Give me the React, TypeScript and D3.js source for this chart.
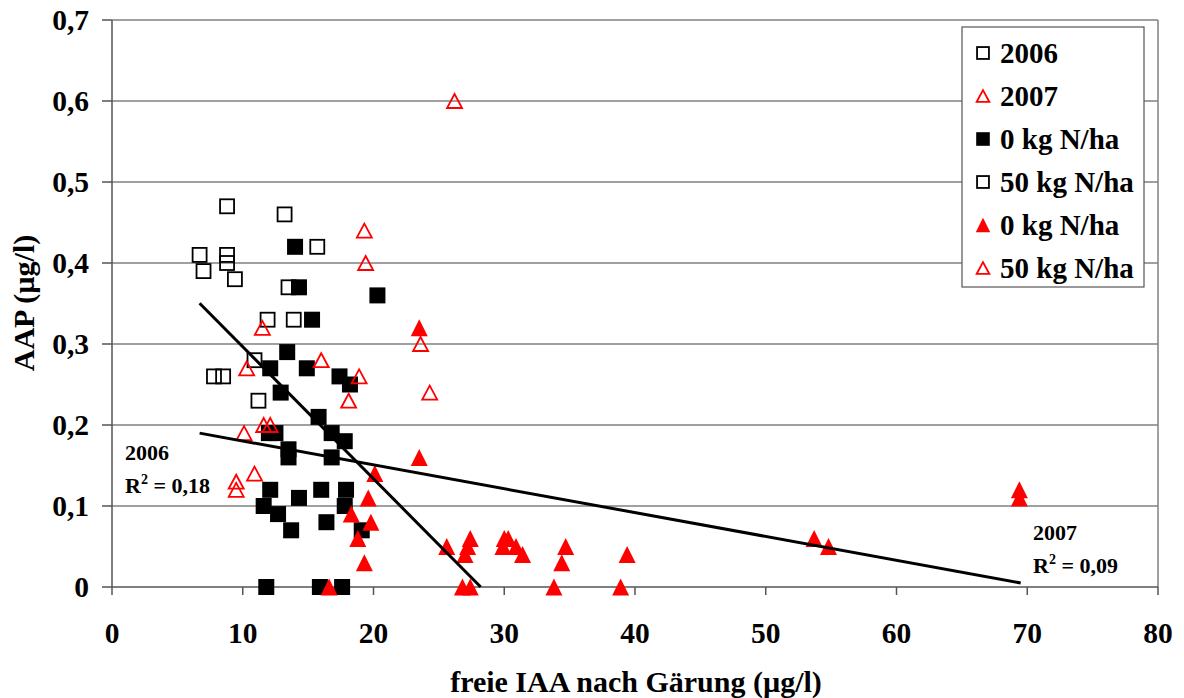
import React from "react";
import * as d3 from "d3";

// ---- data ----
const xTicks = [0, 10, 20, 30, 40, 50, 60, 70, 80];
const yTicks = [0, 0.1, 0.2, 0.3, 0.4, 0.5, 0.6, 0.7];

// 2006, 50 kg N/ha (open squares)
const s2006open: [number, number][] = [
  [6.7, 0.41], [7.0, 0.39], [8.8, 0.47], [8.8, 0.41], [8.8, 0.40], [9.4, 0.38],
  [13.2, 0.46], [15.7, 0.42], [13.5, 0.37], [11.9, 0.33], [13.9, 0.33],
  [10.9, 0.28], [7.8, 0.26], [8.5, 0.26], [11.2, 0.23],
];
// 2006, 0 kg N/ha (filled squares)
const s2006filled: [number, number][] = [
  [14.0, 0.42], [14.3, 0.37], [15.3, 0.33], [20.3, 0.36], [13.4, 0.29],
  [12.1, 0.27], [14.9, 0.27], [17.4, 0.26], [18.2, 0.25], [12.9, 0.24],
  [15.8, 0.21], [16.8, 0.19], [12.0, 0.19], [12.5, 0.19], [13.5, 0.17],
  [13.5, 0.16], [17.8, 0.18], [16.8, 0.16], [12.1, 0.12], [11.6, 0.10],
  [12.7, 0.09], [13.7, 0.07], [14.3, 0.11], [16.0, 0.12], [16.4, 0.08],
  [17.9, 0.12], [17.8, 0.10], [19.1, 0.07], [11.8, 0], [15.9, 0], [17.6, 0],
];
// 2007, 0 kg N/ha (filled triangles)
const s2007filled: [number, number][] = [
  [23.5, 0.32], [23.5, 0.16], [20.1, 0.14], [19.6, 0.11], [18.3, 0.09],
  [19.8, 0.08], [18.8, 0.06], [19.3, 0.03], [16.6, 0], [25.6, 0.05],
  [27.4, 0.06], [27.2, 0.05], [27.0, 0.04], [30.0, 0.06], [30.3, 0.06],
  [29.9, 0.05], [30.9, 0.05], [31.4, 0.04], [34.7, 0.05], [34.4, 0.03],
  [39.4, 0.04], [26.8, 0], [27.4, 0], [33.8, 0], [38.9, 0],
  [53.7, 0.06], [54.8, 0.05], [69.4, 0.12], [69.4, 0.11],
];
// 2007, 50 kg N/ha (open triangles)
const s2007open: [number, number][] = [
  [26.2, 0.60], [19.3, 0.44], [19.4, 0.40], [23.6, 0.30], [11.5, 0.32],
  [16.0, 0.28], [10.3, 0.27], [18.9, 0.26], [18.1, 0.23], [24.3, 0.24],
  [11.6, 0.20], [12.1, 0.20], [10.1, 0.19], [10.9, 0.14], [9.5, 0.13], [9.5, 0.12],
];
// trend lines: [intercept, slope, xStart, xEnd]
const trend2006 = [0.4596, -0.0163, 6.7, 28.2];
const trend2007 = [0.2097, -0.002946, 6.7, 69.5];

const legendLabels = ["2006", "2007", "0 kg N/ha", "50 kg N/ha", "0 kg N/ha", "50 kg N/ha"];
const legendKinds = ["sqOpen", "triOpen", "sqFilled", "sqOpen", "triFilled", "triOpen"];

const FONT = "'Liberation Serif', 'Times New Roman', serif";
const RED = "#ff0000";

function Marker({ kind, x, y, s = 1 }: { kind: string; x: number; y: number; s?: number }) {
  if (kind === "sqOpen") {
    const h = 7 * s;
    return <rect x={x - h} y={y - h} width={2 * h} height={2 * h} fill="none" stroke="#000" strokeWidth={1.8} />;
  }
  if (kind === "sqFilled") {
    const h = 8 * s;
    return <rect x={x - h} y={y - h} width={2 * h} height={2 * h} fill="#000" />;
  }
  if (kind === "triOpen") {
    const w = 7.5 * s, hh = 7 * s;
    return <path d={`M${x},${y - hh}L${x + w},${y + hh}L${x - w},${y + hh}Z`} fill="none" stroke={RED} strokeWidth={1.8} />;
  }
  const w = 8.5 * s, hh = 8.5 * s;
  return <path d={`M${x},${y - hh}L${x + w},${y + hh}L${x - w},${y + hh}Z`} fill={RED} />;
}

export default function App() {
  const x = d3.scaleLinear().domain([0, 80]).range([112, 1158]);
  const y = d3.scaleLinear().domain([0, 0.7]).range([587, 20]);
  const fmtY = (v: number) => (v === 0 ? "0" : d3.format(".1f")(v).replace(".", ","));
  const line = d3.line<number>().x((d) => x(d)).y((d) => y(d));
  const trendPath = (t: number[]) => {
    const [b, m, x0, x1] = t;
    return d3.line<[number, number]>().x((d) => x(d[0])).y((d) => y(d[1]))([
      [x0, b + m * x0],
      [x1, b + m * x1],
    ]) as string;
  };
  void line;

  const legendRowY = (i: number) => 53 + i * 43;

  return (
    <svg width={1184} height={698} style={{ position: "absolute", left: 0, top: 0, background: "#fff" }} fontFamily={FONT} fontWeight="bold">
      <rect x={0} y={0} width={1184} height={698} fill="#fff" />
      {/* gridlines */}
      {yTicks.filter((v) => v > 0).map((v) => (
        <line key={"g" + v} x1={x(0)} x2={x(80)} y1={y(v)} y2={y(v)} stroke="#808080" strokeWidth={1.5} />
      ))}
      {/* right border */}
      <line x1={x(80)} x2={x(80)} y1={y(0.7)} y2={y(0)} stroke="#808080" strokeWidth={1.5} />
      {/* axes */}
      <line x1={x(0)} x2={x(0)} y1={y(0.7)} y2={y(0)} stroke="#555" strokeWidth={1.5} />
      <line x1={x(0)} x2={x(80)} y1={y(0)} y2={y(0)} stroke="#555" strokeWidth={1.5} />
      {yTicks.map((v) => (
        <g key={"yt" + v}>
          <line x1={x(0) - 10} x2={x(0)} y1={y(v)} y2={y(v)} stroke="#555" strokeWidth={1.5} />
          <text x={89} y={y(v) + 10} textAnchor="end" fontSize={29.5} fill="#000">{fmtY(v)}</text>
        </g>
      ))}
      {xTicks.map((v) => (
        <g key={"xt" + v}>
          <line x1={x(v)} x2={x(v)} y1={y(0)} y2={y(0) + 8} stroke="#555" strokeWidth={1.5} />
          <text x={x(v)} y={643} textAnchor="middle" fontSize={29.5} fill="#000">{v}</text>
        </g>
      ))}
      {/* axis titles */}
      <text x={636} y={692} textAnchor="middle" fontSize={30} fill="#000">freie IAA nach Gärung (µg/l)</text>
      <text transform="translate(34,303) rotate(-90)" textAnchor="middle" fontSize={30} fill="#000">AAP (µg/l)</text>

      {/* points */}
      {s2006open.map((d, i) => <Marker key={"a" + i} kind="sqOpen" x={x(d[0])} y={y(d[1])} />)}
      {s2006filled.map((d, i) => <Marker key={"b" + i} kind="sqFilled" x={x(d[0])} y={y(d[1])} />)}
      {s2007filled.map((d, i) => <Marker key={"c" + i} kind="triFilled" x={x(d[0])} y={y(d[1])} />)}
      {s2007open.map((d, i) => <Marker key={"d" + i} kind="triOpen" x={x(d[0])} y={y(d[1])} />)}

      {/* trend lines */}
      <path d={trendPath(trend2006)} stroke="#000" strokeWidth={3} fill="none" />
      <path d={trendPath(trend2007)} stroke="#000" strokeWidth={3} fill="none" />

      {/* annotations */}
      <text x={125} y={460} fontSize={22} fill="#000">2006</text>
      <text x={125} y={493} fontSize={22} fill="#000">
        R<tspan fontSize={14} dy={-9}>2</tspan><tspan dy={9}> = 0,18</tspan>
      </text>
      <text x={1033} y={540} fontSize={22} fill="#000">2007</text>
      <text x={1033} y={573} fontSize={22} fill="#000">
        R<tspan fontSize={14} dy={-9}>2</tspan><tspan dy={9}> = 0,09</tspan>
      </text>

      {/* legend */}
      <rect x={962} y={27} width={182} height={260} fill="#fff" stroke="#555" strokeWidth={1.2} />
      {legendLabels.map((lab, i) => (
        <g key={"l" + i}>
          <Marker kind={legendKinds[i]} x={983} y={legendRowY(i)} s={0.85} />
          <text x={1000} y={legendRowY(i) + 10} fontSize={29} fill="#000">{lab}</text>
        </g>
      ))}
    </svg>
  );
}
